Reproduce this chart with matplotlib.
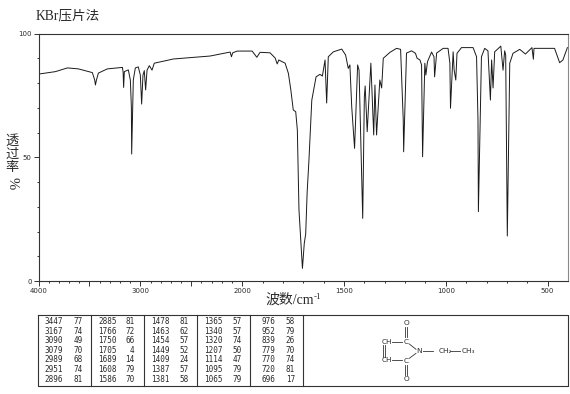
import numpy as np
import matplotlib
matplotlib.use('Agg')
import matplotlib.pyplot as plt
from matplotlib.ticker import NullFormatter

# spectrum: wavenumber (cm-1), transmittance (%)
wavenumber = [4000, 3833, 3716, 3608, 3471, 3448, 3441, 3431, 3412, 3324, 3176, 3169, 3164, 3157, 3118,
              3098, 3088, 3085, 3069, 3049, 3020, 3000, 2987, 2974, 2961, 2948, 2934, 2912, 2885, 2863,
              2676, 2441, 2314, 2118, 2105, 2093, 2049, 1951, 1928, 1912, 1863, 1838, 1828, 1820, 1789,
              1773, 1761, 1749, 1737, 1729, 1727, 1721, 1704, 1695, 1688, 1681, 1672, 1658, 1637, 1618,
              1606, 1593, 1585, 1577, 1552, 1511, 1492, 1479, 1471, 1462, 1448, 1433, 1426, 1408, 1400,
              1396, 1386, 1368, 1354, 1348, 1340, 1324, 1315, 1307, 1274, 1242, 1222, 1209, 1207, 1193,
              1168, 1149, 1141, 1127, 1119, 1114, 1103, 1098, 1090, 1070, 1058, 1055, 1045, 1013, 989,
              980, 977, 964, 959, 951, 945, 923, 866, 849, 842, 840, 825, 809, 793, 781,
              775, 768, 760, 730, 719, 711, 706, 698, 686, 670, 637, 609, 577, 570, 567,
              466, 441, 425, 403]
transmittance = [83.6, 84.6, 86.1, 85.7, 84.2, 81.2, 79.2, 81.2, 84.0, 85.7, 86.3, 84.4, 78.2, 84.6, 85.3,
                 81.2, 70.3, 51.3, 81.2, 86.1, 86.5, 83.2, 71.5, 83.2, 85.0, 77.2, 85.2, 87.0, 85.2, 88.0,
                 89.7, 90.5, 90.9, 92.5, 90.6, 92.2, 92.9, 92.9, 90.4, 92.4, 92.2, 90.1, 87.7, 89.3, 88.0,
                 83.9, 77.2, 69.1, 68.4, 61.0, 52.9, 28.7, 5.1, 15.2, 19.0, 35.6, 48.9, 73.1, 82.5, 83.5,
                 82.8, 89.3, 71.9, 90.6, 92.6, 93.7, 91.3, 85.9, 87.3, 70.4, 53.6, 87.3, 85.2, 25.3, 74.5,
                 78.8, 60.3, 88.0, 59.0, 79.2, 59.0, 81.2, 78.0, 90.0, 92.4, 94.0, 93.6, 65.0, 52.2, 92.1,
                 93.0, 92.0, 90.0, 89.3, 87.3, 50.2, 88.0, 83.2, 88.6, 92.5, 90.6, 82.5, 92.1, 94.0, 94.0,
                 88.0, 69.8, 92.6, 85.2, 81.2, 92.0, 94.3, 94.3, 90.6, 65.0, 28.0, 90.6, 94.0, 93.0, 73.1,
                 89.3, 78.0, 92.6, 94.9, 85.2, 93.0, 91.3, 18.2, 88.0, 92.0, 93.6, 91.7, 94.3, 89.6, 94.0,
                 94.0, 88.2, 89.3, 94.3]

# peak table, column by column
peak_wn = [[3447, 3167, 3090, 3079, 2989, 2951, 2896],
           [2885, 1766, 1750, 1705, 1689, 1608, 1586],
           [1478, 1463, 1454, 1449, 1409, 1387, 1381],
           [1365, 1340, 1320, 1207, 1114, 1095, 1065],
           [976, 952, 839, 779, 770, 720, 696]]
peak_t = [[77, 74, 49, 70, 68, 74, 81],
          [81, 72, 66, 4, 14, 79, 70],
          [81, 62, 57, 52, 24, 57, 58],
          [57, 57, 74, 50, 47, 79, 79],
          [58, 79, 26, 70, 74, 81, 17]]

xticks = [4000, 3500, 3000, 2500, 2000, 1500, 1000, 500]
xticklabels = ['4000', '', '3000', '', '2000', '1500', '1000', '500']
xminor = list(range(3900, 2000, -100)) + list(range(1900, 400, -100))
yticks = [0, 50, 100]
yminor = [10, 20, 30, 40, 60, 70, 80, 90]

W, H = 570, 394
LINE = '#333333'
TEXT = '#2a2a2a'


# x axis is compressed by 2 above 2000 cm-1
def forward(w):
    w = np.asarray(w, dtype=float)
    return np.where(w >= 2000, w/2 + 1000, w)


def inverse(v):
    v = np.asarray(v, dtype=float)
    return np.where(v >= 2000, (v - 1000)*2, v)


fig = plt.figure(figsize=(W/100, H/100), dpi=100)

# page axes in pixel coordinates, for the table, structure and labels
page = fig.add_axes([0, 0, 1, 1])
page.set_xlim(0, W)
page.set_ylim(H, 0)
page.axis('off')

ax = fig.add_axes([38.5/W, 1 - 281/H, (568 - 38.5)/W, (281 - 33.5)/H])
ax.plot(wavenumber, transmittance, color='#1a1a1a', lw=0.7)
ax.set_xscale('function', functions=(forward, inverse))
ax.set_xlim(4000, 400)
ax.set_ylim(0, 100)
ax.set_xticks(xticks)
ax.set_xticklabels(xticklabels)
ax.set_xticks(xminor, minor=True)
ax.xaxis.set_minor_formatter(NullFormatter())
ax.set_yticks(yticks)
ax.set_yticks(yminor, minor=True)
ax.tick_params(which='major', length=3.5, width=0.7, color=LINE, labelsize=5, labelcolor=TEXT, pad=1.5)
ax.tick_params(which='minor', length=1.5, width=0.7, color=LINE)
ax.patch.set_alpha(0)
for s in ax.spines.values():
    s.set_linewidth(0.8)
    s.set_color(LINE)
ax.spines['right'].set_color('#888888')

cjk = ['Liberation Serif', 'Noto Sans CJK SC']
page.text(36, 16, 'KBr压片法', family=cjk, fontsize=9.8, color=TEXT, va='center')
page.text(12, 141, '透', family=cjk, fontsize=9.5, color=TEXT, ha='center', va='center')
page.text(12, 155, '过', family=cjk, fontsize=9.5, color=TEXT, ha='center', va='center')
page.text(12, 168, '率', family=cjk, fontsize=9.5, color=TEXT, ha='center', va='center')
page.text(12, 183, '%', family=cjk, fontsize=10.5, color=TEXT, ha='center', va='center', rotation=-90)
page.text(265, 300, '波数/cm', family=cjk, fontsize=10, color=TEXT, va='center')
page.text(314, 297, '-1', family=cjk, fontsize=6.5, color=TEXT, va='center')

# peak table
rows_y = [321.7, 331.3, 340.7, 350.3, 359.7, 369.3, 379]
wn_right = [63.3, 116.5, 170, 222.7, 275.7]
t_right = [82.7, 134.3, 188.3, 241.7, 295]
dividers = [91.3, 144.3, 197.3, 250.3, 303.3]

page.plot([37.7, 567.7, 567.7, 37.7, 37.7], [315, 315, 385.7, 385.7, 315], color=LINE, lw=0.8)
for xd in dividers:
    page.plot([xd, xd], [315, 385.7], color=LINE, lw=0.8)
for c in range(5):
    for r in range(7):
        page.text(wn_right[c], rows_y[r], str(peak_wn[c][r]), family='DejaVu Sans Mono', fontsize=5.5,
                  color=TEXT, ha='right', va='center')
        page.text(t_right[c], rows_y[r], str(peak_t[c][r]), family='DejaVu Sans Mono', fontsize=5.5,
                  color=TEXT, ha='right', va='center')

# structure
atoms = [('O', 406.7, 323.3), ('O', 406.7, 379), ('C', 406, 342), ('C', 406, 360.7),
         ('CH', 386.7, 341.7), ('CH', 386.7, 360.3), ('N', 419.3, 351),
         ('CH₂', 445, 351), ('CH₃', 468.3, 351)]
for name, xa, ya in atoms:
    page.text(xa, ya, name, family='DejaVu Sans', fontsize=5.3, color=TEXT, ha='center', va='center')

bonds = [(405.2, 327.3, 405.2, 337.3), (406.8, 327.3, 406.8, 337.3),
         (405.2, 365, 405.2, 375), (406.8, 365, 406.8, 375),
         (391.7, 341.7, 401.7, 341.7), (391.7, 360.3, 401.7, 360.3),
         (409.3, 344, 416, 349.3), (409.3, 358.3, 416, 353.3),
         (423.3, 351, 432.7, 351), (450, 351, 460, 351),
         (382.7, 345, 382.7, 356.7), (384.5, 345, 384.5, 356.7)]
for x0, y0, x1, y1 in bonds:
    page.plot([x0, x1], [y0, y1], color=LINE, lw=0.6)

fig.savefig('out.png', dpi=100)
